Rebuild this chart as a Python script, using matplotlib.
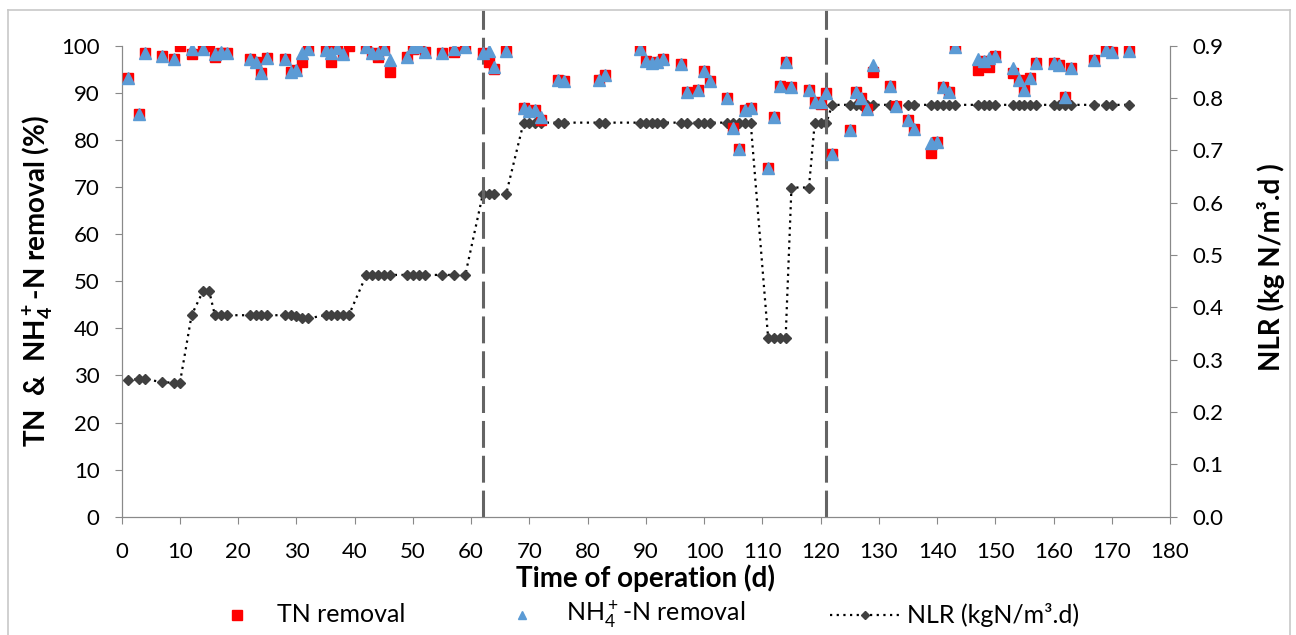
import numpy as np
import matplotlib.pyplot as plt
from matplotlib.lines import Line2D

plt.rcParams['font.family'] = ['Lato', 'DejaVu Sans']
plt.rcParams['mathtext.fontset'] = 'custom'
plt.rcParams['mathtext.rm'] = 'Lato'
plt.rcParams['mathtext.bf'] = 'Lato:bold'

# Sampling days for removal data
days = [1, 3, 4, 7, 9, 10, 12, 14, 15, 16, 17, 18, 22, 23, 24, 25, 28, 29, 30, 31,
        32, 35, 36, 37, 38, 39, 42, 43, 44, 45, 46, 49, 50, 51, 52, 55, 57, 59, 62, 63,
        64, 66, 69, 70, 71, 72, 75, 76, 82, 83, 89, 90, 91, 92, 93, 96, 97, 99, 100, 101,
        104, 105, 106, 107, 108, 111, 112, 113, 114, 115, 118, 119, 120, 121, 122, 125, 126, 127, 128, 129,
        132, 133, 135, 136, 139, 140, 141, 142, 143, 147, 148, 149, 150, 153, 154, 155, 156, 157, 160, 161,
        162, 163, 167, 169, 170, 173]

tn_removal = [93.1, 85.6, 98.4, 97.9, 97.1, 100.0, 98.2, 99.6, 100.0, 97.7, 98.4, 98.4, 97.2, 96.6, 94.1, 97.3, 97.1, 94.5, 94.8, 96.6,
              99.4, 99.1, 96.6, 99.6, 98.2, 99.9, 99.8, 98.5, 97.7, 99.4, 94.5, 97.5, 99.3, 99.5, 98.7, 98.5, 98.7, 99.8, 98.5, 96.6,
              95.0, 98.9, 86.7, 86.1, 86.3, 84.2, 92.7, 92.4, 92.7, 93.8, 99.2, 96.8, 96.3, 96.5, 97.1, 96.1, 90.1, 90.7, 94.7, 92.6,
              88.8, 82.6, 78.0, 86.3, 86.7, 74.0, 84.9, 91.4, 96.6, 91.2, 90.6, 88.1, 87.7, 90.0, 77.0, 82.1, 90.2, 88.8, 86.5, 94.5,
              91.5, 87.2, 84.2, 82.3, 77.3, 79.6, 91.2, 90.2, 99.7, 94.8, 96.8, 95.5, 97.8, 94.1, 92.7, 90.7, 93.1, 96.3, 96.4, 95.8,
              89.2, 95.2, 97.0, 99.1, 98.7, 98.9]

nan = np.nan
nh4_removal = [93.1, 85.6, 98.4, 97.9, 97.1, nan, 99.2, 99.4, nan, 98.2, 98.6, 98.4, 97.2, 96.6, 94.1, 97.3, 97.1, 94.5, 94.8, 98.4,
               99.4, 99.1, 98.4, 99.6, 98.2, nan, 99.8, 98.5, 98.4, 99.4, 97.0, 97.5, 99.8, 100.0, 98.7, 98.5, 99.4, 99.8, 98.5, 98.9,
               95.4, 98.9, 86.7, 86.1, 86.3, 84.8, 92.7, 92.4, 92.7, 93.8, 99.2, 96.8, 96.3, 96.5, 97.1, 96.1, 90.1, 90.7, 94.7, 92.6,
               88.8, 82.6, 78.0, 86.3, 86.7, 74.0, 84.9, 91.4, 96.6, 91.2, 90.6, 88.1, 88.1, 90.0, 77.0, 82.1, 90.2, 88.8, 86.5, 95.9,
               91.5, 87.2, 84.2, 82.3, 79.3, 79.6, 91.2, 90.2, 99.7, 97.1, 96.8, 97.3, 97.8, 95.2, 92.7, 90.7, 93.1, 96.3, 96.4, 95.8,
               89.2, 95.2, 97.0, 99.1, 98.7, 98.9]

# Nitrogen loading rate (kg N/m3.d)
nlr = [0.261, 0.263, 0.263, 0.257, 0.256, 0.256, 0.385, 0.432, 0.432, 0.385, 0.385, 0.385, 0.385, 0.385, 0.385, 0.385, 0.385, 0.385, 0.383, 0.379,
       0.379, 0.385, 0.385, 0.385, 0.385, 0.385, 0.462, 0.462, 0.462, 0.462, 0.462, 0.462, 0.462, 0.462, 0.462, 0.462, 0.462, 0.462, 0.616, 0.616,
       0.616, 0.616, 0.753, 0.753, 0.753, 0.753, 0.753, 0.753, 0.753, 0.753, 0.753, 0.753, 0.753, 0.753, 0.753, 0.753, 0.753, 0.753, 0.753, 0.753,
       0.753, 0.753, 0.753, 0.753, 0.753, 0.341, 0.341, 0.341, 0.341, 0.629, 0.629, 0.753, 0.753, 0.753, 0.787, 0.787, 0.787, 0.787, 0.787, 0.787,
       0.787, 0.787, 0.787, 0.787, 0.787, 0.787, 0.787, 0.787, 0.787, 0.787, 0.787, 0.787, 0.787, 0.787, 0.787, 0.787, 0.787, 0.787, 0.787, 0.787,
       0.787, 0.787, 0.787, 0.787, 0.787, 0.787]

phase_breaks = [62, 121]

W, H = 1296, 635
axis_grey = '#898989'
red = '#FF0000'
blue = '#5B9BD5'
diamond = '#404040'

fig = plt.figure(figsize=(W / 100, H / 100), dpi=100)
ax = fig.add_axes([121.7 / W, 1 - 516.7 / H, (1170 - 121.7) / W, (516.7 - 45.7) / H])
ax2 = ax.twinx()

ax.plot(days, tn_removal, linestyle='none', marker='s', markersize=7.4,
        color=red, markeredgecolor=red, zorder=3)
ax.plot(days, nh4_removal, linestyle='none', marker='^', markersize=8.5,
        color=blue, markeredgecolor=blue, zorder=4)
ax2.plot(days, nlr, linestyle=(0, (1, 2)), linewidth=1.6, color='black',
         marker='D', markersize=5.5, markerfacecolor=diamond, markeredgecolor=diamond)

# phase separators run up to the top border of the chart
top_val = (516.7 - 10) / 4.71
for d in phase_breaks:
    ax.plot([d, d], [0, top_val], color='#646464', linewidth=2.2,
            linestyle=(0, (8.8, 2.6)), zorder=2, clip_on=False)

# draw removal data on top of the NLR line
ax.set_zorder(ax2.get_zorder() + 1)
ax.patch.set_visible(False)

ax.set_xlim(0, 180)
ax.set_ylim(0, 100)
ax2.set_ylim(0, 0.9)
ax.set_xticks(np.arange(0, 181, 10))
ax.set_yticks(np.arange(0, 101, 10))
ax2.set_yticks(np.arange(0, 0.91, 0.1))
ax2.set_yticklabels([f'{v:.1f}' for v in np.arange(0, 0.91, 0.1)])

for a in (ax, ax2):
    a.spines['top'].set_visible(False)
    for s in ('left', 'right', 'bottom'):
        a.spines[s].set_color(axis_grey)
    a.tick_params(colors=axis_grey, labelcolor='black', labelsize=16, length=5, direction='out')

ax.tick_params(axis='x', pad=13)
ax.tick_params(axis='y', pad=11)
ax2.tick_params(axis='y', pad=11)

ax.set_xlabel('Time of operation (d)', fontsize=20, fontweight='bold', labelpad=2)
ax.set_ylabel(r'TN  &  NH$\mathbf{_4^+}$-N removal (%)', fontsize=20, fontweight='bold', labelpad=4)
ax2.set_ylabel('NLR (kg N/m³.d )', fontsize=20, fontweight='bold')
ax2.yaxis.set_label_coords((1257 - 121.7) / (1170 - 121.7), 0.53)

# legend drawn by hand to match the spacing of the original
ly = 1 - 615 / H
fig.add_artist(Line2D([237 / W], [ly], linestyle='none', marker='s', markersize=7, color=red))
fig.text(277 / W, ly, 'TN removal', fontsize=18, va='center', ha='left')
fig.add_artist(Line2D([522 / W], [ly], linestyle='none', marker='^', markersize=6, color=blue))
fig.text(566 / W, ly, r'NH$_4^+$-N removal', fontsize=18, va='center', ha='left')
fig.add_artist(Line2D([830 / W, 900 / W], [ly, ly], linestyle=(0, (1, 2)), linewidth=1.6, color='black'))
fig.add_artist(Line2D([865 / W], [ly], linestyle='none', marker='D', markersize=4, color=diamond))
fig.text(907 / W, ly, 'NLR (kgN/m³.d)', fontsize=18, va='center', ha='left')

# chart area border
border = '#c8c8c8'
fig.add_artist(Line2D([8 / W, 1290 / W], [1 - 10 / H, 1 - 10 / H], color=border, linewidth=1.2))
for xb in (8 / W, 1290 / W):
    fig.add_artist(Line2D([xb, xb], [0, 1 - 10 / H], color=border, linewidth=1.2))

fig.savefig('out.png', dpi=100)
